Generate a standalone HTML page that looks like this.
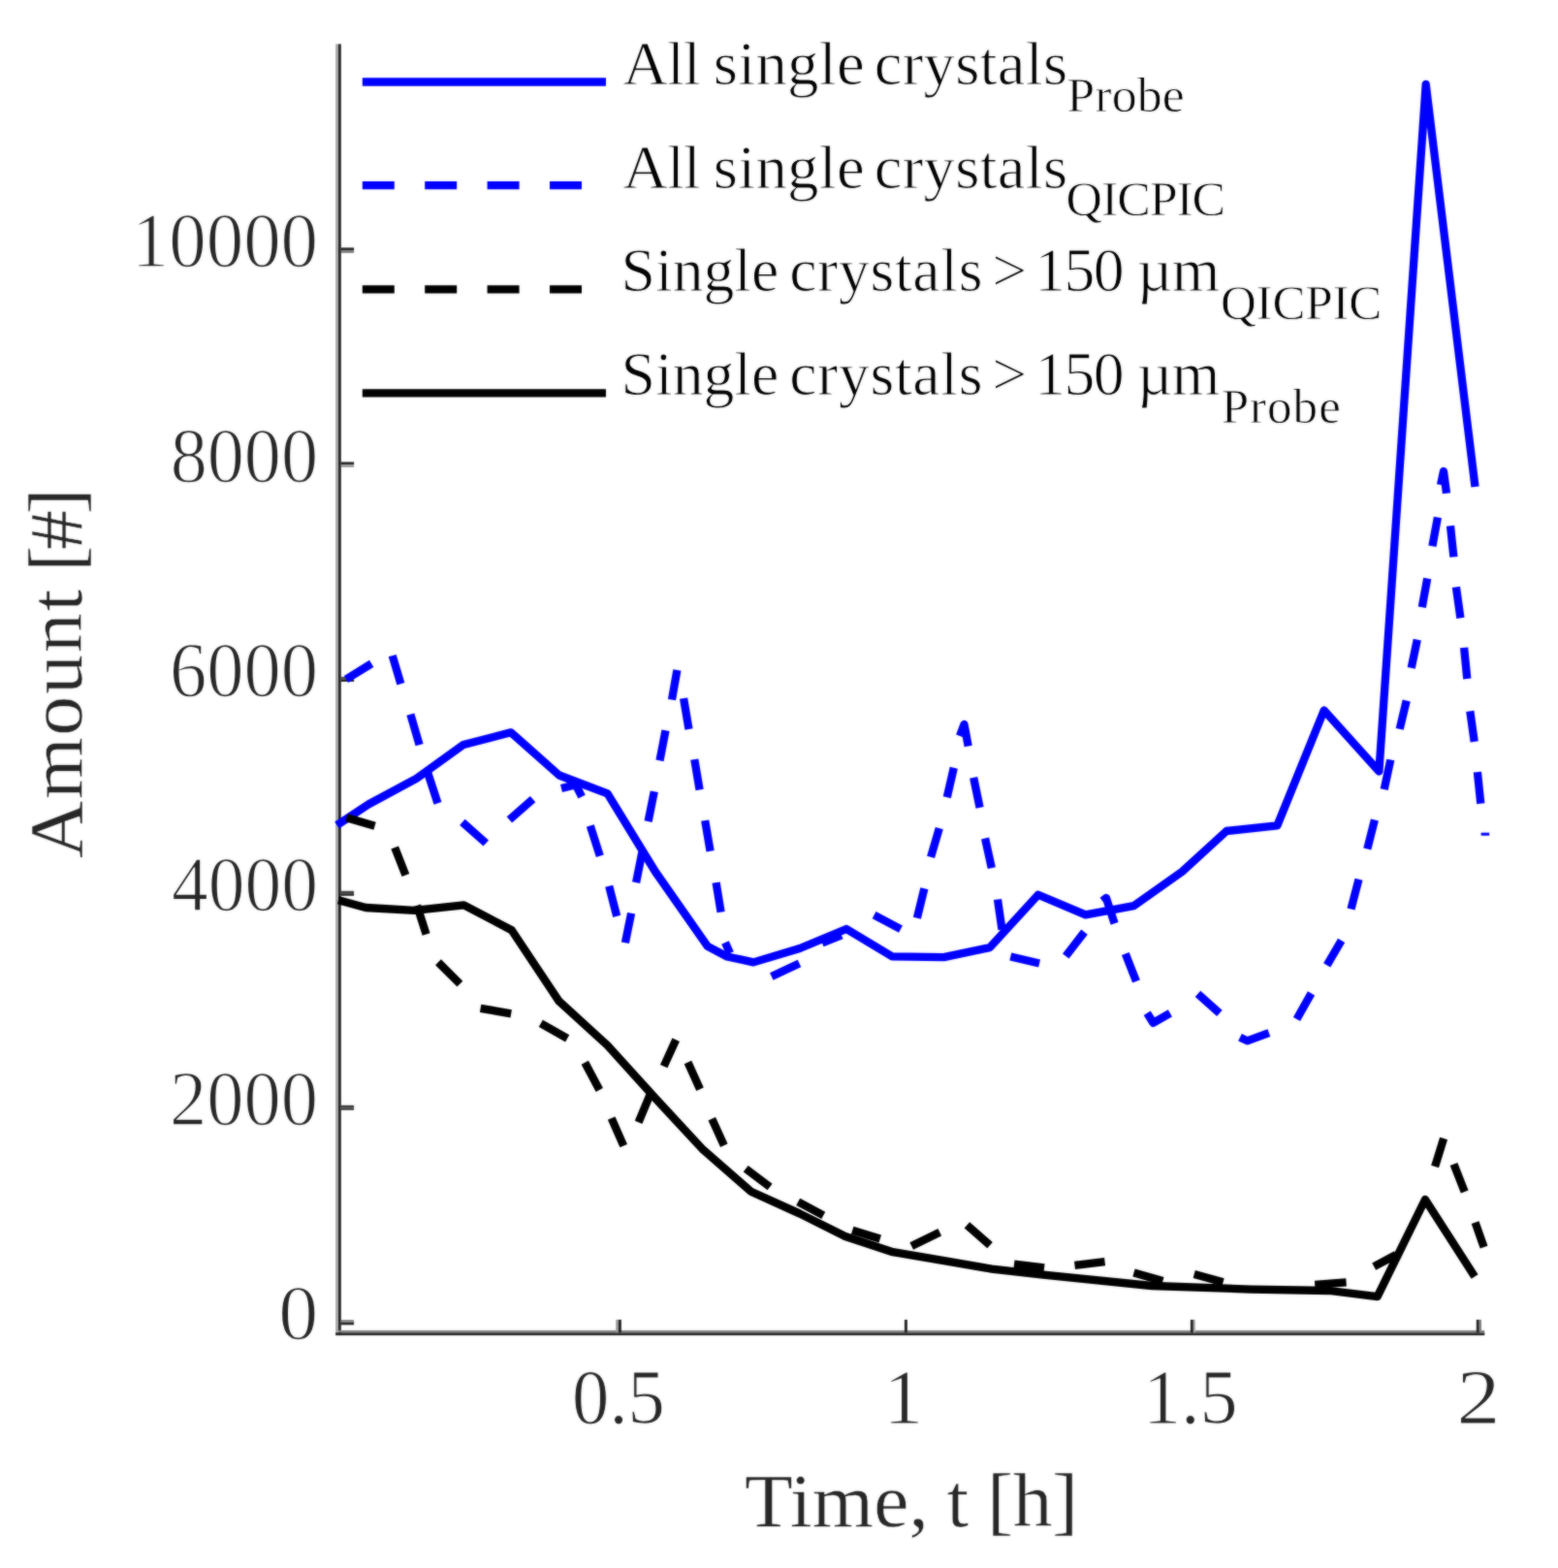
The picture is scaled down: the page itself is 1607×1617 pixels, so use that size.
<!DOCTYPE html>
<html lang="en"><head><meta charset="utf-8"><title>Amount of single crystals over time</title>
<style>html,body{margin:0;padding:0;background:#fff}svg{display:block}text{font-family:"Liberation Serif",serif}.yt{font-size:80px;fill:#262626;stroke:#fff;stroke-width:1.4px}.xt{font-size:79.5px;fill:#262626;stroke:#fff;stroke-width:1.0px}.al{font-size:77.5px;fill:#262626;stroke:#fff;stroke-width:0.5px}.lg{font-size:62.5px;fill:#000;stroke:#fff;stroke-width:1.0px}.sb{font-size:50px;fill:#000;stroke:#fff;stroke-width:0.8px}</style>
</head><body>
<svg width="1607" height="1617" viewBox="0 0 1607 1617">
<defs><filter id="soft" x="0" y="0" width="1607" height="1617" filterUnits="userSpaceOnUse" color-interpolation-filters="sRGB"><feGaussianBlur in="SourceGraphic" stdDeviation="1" result="b"/><feComposite in="SourceGraphic" in2="b" operator="arithmetic" k1="0" k2="0.5" k3="0.5" k4="0"/></filter></defs>
<g filter="url(#soft)">
<rect width="1607" height="1617" fill="#fff"/>
<g id="axes">
<rect x="346.1" y="45.4" width="2.9" height="1331.7" fill="#ababab"/>
<rect x="349.0" y="45.4" width="2.8" height="1331.7" fill="#262626"/>
<rect x="349.0" y="1371.9" width="1182.3" height="2.4" fill="#858585"/>
<rect x="346.1" y="1374.3" width="1185.2" height="2.8" fill="#262626"/>
<rect x="351.8" y="255.4" width="13.3" height="2.8" fill="#262626"/>
<rect x="351.8" y="258.2" width="13.3" height="2.6" fill="#757575"/>
<rect x="351.8" y="476.4" width="13.3" height="2.8" fill="#262626"/>
<rect x="351.8" y="479.2" width="13.3" height="2.6" fill="#999999"/>
<rect x="351.8" y="697.9" width="13.3" height="2.4" fill="#555555"/>
<rect x="351.8" y="700.3" width="13.3" height="2.7" fill="#262626"/>
<rect x="351.8" y="918.8" width="13.3" height="2.4" fill="#444444"/>
<rect x="351.8" y="921.2" width="13.3" height="2.6" fill="#262626"/>
<rect x="351.8" y="1139.8" width="13.3" height="2.5" fill="#3d3d3d"/>
<rect x="351.8" y="1142.3" width="13.3" height="2.5" fill="#3d3d3d"/>
<rect x="351.8" y="1361.1" width="13.3" height="2.4" fill="#858585"/>
<rect x="351.8" y="1363.5" width="13.3" height="2.8" fill="#262626"/>
<rect x="635.3" y="1360.9" width="2.6" height="13.4" fill="#999999"/>
<rect x="637.9" y="1360.9" width="3.0" height="13.4" fill="#262626"/>
<rect x="932.9" y="1360.9" width="3.0" height="13.4" fill="#262626"/>
<rect x="1227.9" y="1360.9" width="3.0" height="13.4" fill="#262626"/>
<rect x="1230.9" y="1360.9" width="2.0" height="13.4" fill="#aaaaaa"/>
<rect x="1522.8" y="1360.9" width="3.0" height="13.4" fill="#262626"/>
<rect x="1525.8" y="1360.9" width="2.2" height="13.4" fill="#858585"/>
</g>
<g id="series">
<polyline points="347.5,851 380,829.5 429.5,802.8 478.1,767.9 527,755.3 576.8,799.5 626.6,818.3 676,899 729.8,975.8 750,986.5 777.1,992.4 825,978 873,958 920,986.3 973.5,987.1 1020.8,977.2 1070.8,922.8 1119.7,943.4 1169.5,934.2 1219.3,898.9 1265.1,857 1317.4,851.4 1365.7,732.5 1422.4,795.5 1470.7,87 1521.5,502" fill="none" stroke="#0000ff" stroke-width="8.3" stroke-linejoin="round" stroke-linecap="butt"/>
<path d="M357 700.5 L383.2 684.4 M404.7 676.1 L413.4 705.2 M423.4 736.6 L432.6 768.2 M440.8 795.6 L451.5 828.4 M476.9 847.8 L501.3 869.5 M525.4 845.4 L549.6 824.2 M579 813 L593.9 809.3 L600.1 821.7 M608.8 851.6 L618.8 882.7 M628.2 913.8 L636.2 944.9 M651.1 941.7 L644.9 972.3 M662.3 879 L656.1 910.1 M674.8 816.2 L668.6 847.1 M686.5 753.3 L680.5 784.4 M698.4 691 L693 721.6 M705.1 720.1 L710.5 752 M716.3 783.1 L721.6 814.5 M727.2 846.1 L732.6 877.7 M738.6 910.1 L743.6 940.7 M748 972 L753 983 M795.8 1007.1 L824.5 993.5 M848 972.5 L868 964.5 M901.6 943.7 L929 958.1 M945.9 946.7 L953.4 916.3 M960.1 883.9 L968.8 854.1 M976.8 822.2 L983.8 791.8 M990 759 L994.5 747 L998.7 769.4 M1004.2 801.8 L1010.6 832.9 M1016.1 864.5 L1022.8 895.1 M1029 927.5 L1033.5 958.6 M1042.3 986.5 L1072.1 993.5 M1099.3 986 L1118.5 961.1 M1137 929 L1141 926 L1149.6 952.4 M1160.8 983.5 L1172 1012.1 M1183.2 1044.8 L1189.4 1054.8 L1206.9 1044.8 M1235.5 1024.9 L1257.9 1044.8 M1279 1069.7 L1286.5 1073.4 L1308.9 1065.2 M1352.5 1024.4 L1337.5 1051 M1383.6 969.8 L1368.7 995.4 M1401.5 906.8 L1393.5 937.5 M1417.9 845.4 L1410.3 875.5 M1434.3 783.5 L1427.7 814.2 M1450.7 722.5 L1443.7 751.9 M1461.8 659.7 L1455.7 688.9 M1472.2 596.6 L1466.8 626.3 M1482.9 533.6 L1477.4 563.2 M1486 500 L1489 486 L1492 508.8 M1496 542.2 L1499.4 574.4 M1501.9 605.3 L1506.4 637.4 M1510.1 667.9 L1513.3 700 M1516.3 733.4 L1520.7 764.8 M1523.9 796.1 L1527.3 828.7" fill="none" stroke="#0000ff" stroke-width="8.3" stroke-linecap="butt" stroke-linejoin="round"/>
<rect x="1527.6" y="858.7" width="8.6" height="3" fill="#0000ff"/>
<path d="M357.4 843.3 L386.6 851.8 M407.2 874 L418.4 902.6 M430.1 933.7 L439.6 963.6 M452 992.2 L474.4 1014.6 M495.6 1039.8 L527.2 1045.3 M557.8 1055.3 L585.2 1070.9 M603.3 1095.8 L618.3 1124 M630.7 1153.1 L643.2 1181.7 M658.6 1157.3 L671.1 1127.4 M684.7 1099.6 L697.2 1072.2 M709.5 1095.5 L722 1123.2 M734.3 1153.8 L746.8 1181.2 M769.2 1205.3 L794.1 1224 M823.2 1239.4 L849.3 1253.4 M879.2 1268.8 L907.8 1277.5 M940.2 1285 L969.3 1270.8 M997.4 1263.3 L1021.1 1284.2 M1046 1303.7 L1077.1 1307.4 M1108.5 1304.9 L1139.6 1301.2 M1169.5 1312.4 L1199.4 1321.1 M1231.7 1314.1 L1261.6 1322.3 M1356.2 1324.8 L1388.6 1322.3 M1417.2 1306.2 L1440 1294 M1480.1 1203.1 L1489.1 1174 M1499.5 1200.5 L1510.7 1229.1 M1521.6 1260.6 L1530.6 1286.2" fill="none" stroke="#000000" stroke-width="8.3" stroke-linecap="butt" stroke-linejoin="round"/>
<polyline points="349,928.2 377.2,936 427.3,938.8 478.5,933.4 527.8,959.2 576.5,1032.4 626.5,1078 676,1132.6 725.25,1185.7 774.5,1228.7 824.5,1251.4 871.8,1275 921,1291.2 973.8,1300.2 1023,1308.6 1076,1314.6 1188,1326 1290,1329.6 1371.1,1331 1420.7,1337.1 1470,1237 1521.1,1316.5" fill="none" stroke="#000000" stroke-width="8.3" stroke-linejoin="round" stroke-linecap="butt"/>
</g>
<g id="ticklabels">
<text class="yt" transform="matrix(1.0246 0 0 1 0 1381.10)" x="280.26">0</text>
<text class="yt" transform="matrix(0.9559 0 0 1 0 1159.96)" x="183.21">2000</text>
<text class="yt" transform="matrix(0.9435 0 0 1 0 938.82)" x="187.68">4000</text>
<text class="yt" transform="matrix(0.9559 0 0 1 0 717.68)" x="183.21">6000</text>
<text class="yt" transform="matrix(0.9528 0 0 1 0 496.54)" x="184.33">8000</text>
<text class="yt" transform="matrix(0.9618 0 0 1 0 275.40)" x="141.14">10000</text>
<text class="xt" transform="matrix(0.9648 0 0 1 0 1468.30)" x="611.57">0.5</text>
<text class="xt" transform="matrix(1.0222 0 0 1 0 1468.30)" x="891.82">1</text>
<text class="xt" transform="matrix(0.9847 0 0 1 0 1468.30)" x="1197.23">1.5</text>
<text class="xt" transform="matrix(1.1317 0 0 1 0 1468.30)" x="1327.62">2</text>
<text class="al" transform="matrix(1.0497 0 0 1 0 1573.85)"><tspan x="731.60" style="letter-spacing:0.20px">Time,</tspan> <tspan x="930.30">t</tspan> <tspan x="969.90" style="letter-spacing:-0.40px">[h]</tspan></text>
<text class="al" transform="matrix(0 -1.0554 1 0 83.85 883.9)"><tspan x="-1.00" style="letter-spacing:1.72px">Amount</tspan> <tspan x="278.73" style="letter-spacing:-4.30px">[#]</tspan></text>
</g>
<g id="legend">
<path d="M373.8 84.5 H625" stroke="#0000ff" stroke-width="8.3" fill="none"/>
<text class="lg" transform="matrix(1.0377 0 0 1 0 86.50)"><tspan x="619.05" style="letter-spacing:-1.18px">All</tspan> <tspan x="708.94" style="letter-spacing:0.23px">single</tspan> <tspan x="869.09" style="letter-spacing:0.17px">crystals</tspan><tspan class="sb" x="1060.37" y="28.5" style="letter-spacing:0.12px">Probe</tspan></text>
<path d="M373.8 191.2 H600.2" stroke="#0000ff" stroke-width="8.3" stroke-dasharray="33 31.4" fill="none"/>
<text class="lg" transform="matrix(1.0377 0 0 1 0 193.50)"><tspan x="619.05" style="letter-spacing:-1.18px">All</tspan> <tspan x="708.94" style="letter-spacing:0.23px">single</tspan> <tspan x="869.09" style="letter-spacing:0.17px">crystals</tspan><tspan class="sb" x="1059.62" y="28.6" style="letter-spacing:-1.04px">QICPIC</tspan></text>
<path d="M373.8 298.3 H600.2" stroke="#000000" stroke-width="8.3" stroke-dasharray="33 31.4" fill="none"/>
<text class="lg" transform="matrix(1.0208 0 0 1 0 300.10)"><tspan x="627.51" style="letter-spacing:-0.06px">Single</tspan> <tspan x="797.56" style="letter-spacing:0.63px">crystals</tspan> <tspan x="1002.35">&gt;</tspan> <tspan x="1045.54" style="letter-spacing:-1.62px">150</tspan> <tspan x="1148.97" style="letter-spacing:-0.86px">µm</tspan><tspan class="sb" x="1233.31" y="28.6" style="letter-spacing:-0.18px">QICPIC</tspan></text>
<path d="M373.8 405.4 H625" stroke="#000000" stroke-width="8.3" fill="none"/>
<text class="lg" transform="matrix(1.0208 0 0 1 0 406.90)"><tspan x="627.51" style="letter-spacing:-0.06px">Single</tspan> <tspan x="797.56" style="letter-spacing:0.63px">crystals</tspan> <tspan x="1002.35">&gt;</tspan> <tspan x="1045.54" style="letter-spacing:-1.62px">150</tspan> <tspan x="1148.97" style="letter-spacing:-0.86px">µm</tspan><tspan class="sb" x="1234.06" y="28.8" style="letter-spacing:0.98px">Probe</tspan></text>
</g>
</g>
</svg>
</body></html>
